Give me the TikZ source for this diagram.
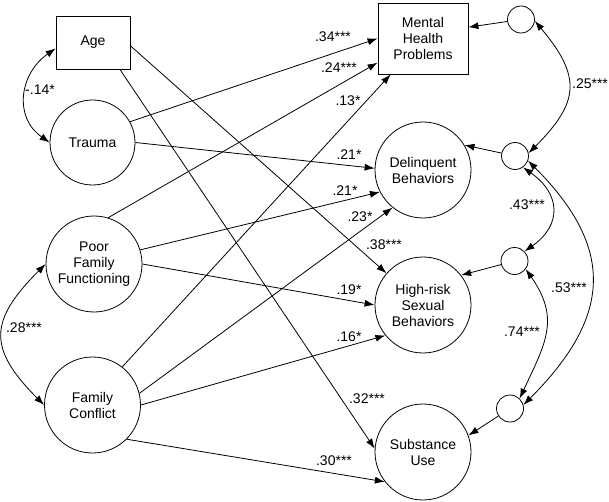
\documentclass[tikz,border=0pt]{standalone}
\usepackage{fontspec}
\setmainfont{Liberation Sans}
\usetikzlibrary{arrows.meta}

\begin{document}
\begin{tikzpicture}[x=1pt,y=1pt,line width=0.8pt,
    font=\fontsize{14}{16}\selectfont,
    obs/.style={draw,rectangle,align=center,inner sep=0pt},
    lat/.style={draw,circle,align=center,inner sep=0pt,minimum size=96pt},
    err/.style={draw,circle,inner sep=0pt,minimum size=27pt},
    path/.style={-{Latex[length=10pt,width=7pt]}},
    cov/.style={{Latex[length=10pt,width=7pt]}-{Latex[length=10pt,width=7pt]}},
    coef/.style={inner sep=0pt}]
        \useasboundingbox (0,0) rectangle (609,-502);

        % predictors
        \node[obs,minimum width=74pt,minimum height=53pt] (age) at (93,-42.5) {Age};
        \node[lat,minimum size=85pt] (trauma) at (92.5,-142.5) {Trauma};
        \node[lat] (pff) at (94,-264) {Poor\\Family\\Functioning};
        \node[lat] (fc) at (92.5,-405) {Family\\Conflict};

        % outcomes
        \node[obs,minimum width=90pt,minimum height=71pt] (mhp) at (423,-38.5) {Mental\\Health\\Problems};
        \node[lat] (del) at (423,-170) {Delinquent\\Behaviors};
        \node[lat] (hrsb) at (423,-305) {High-risk\\Sexual\\Behaviors};
        \node[lat] (su) at (423,-452) {Substance\\Use};

        % residuals
        \node[err] (e1) at (521,-19.5) {};
        \node[err] (e2) at (515,-156) {};
        \node[err] (e3) at (514.5,-261) {};
        \node[err] (e4) at (510,-408.5) {};

        \draw[path] (e1) -- (mhp.14);
        \draw[path] (e2) -- (del.31);
        \draw[path] (e3) -- (hrsb.38);
        \draw[path] (e4) -- (su.20);

        % paths
        \draw[path] (age.-5) -- (hrsb.139);
        \draw[path] (age.-45) -- (su.176);
        \draw[path] (trauma.29) -- (mhp.west);
        \draw[path] (trauma.east) -- (del.178);
        \draw[path] (pff.73) -- (mhp.208);
        \draw[path] (pff.17) -- (del.207);
        \draw[path] (pff.east) -- (hrsb.west);
        \draw[path] (fc.52) -- (mhp.228);
        \draw[path] (fc.14) -- (del.231);
        \draw[path] (fc.east) -- (hrsb.219);
        \draw[path] (fc.-45) -- (su.218);

        \node[coef] (b1) at (333,-37) {.34***};
        \node[coef] (b2) at (339,-68) {.24***};
        \node[coef] (b3) at (348,-101) {.13*};
        \node[coef] (b4) at (349,-155) {.21*};
        \node[coef] (b5) at (345,-191) {.21*};
        \node[coef] (b6) at (360,-217) {.23*};
        \node[coef] (b7) at (384,-245) {.38***};
        \node[coef] (b8) at (349,-290) {.19*};
        \node[coef] (b9) at (349,-337) {.16*};
        \node[coef] (b10) at (367,-399) {.32***};
        \node[coef] (b11) at (334,-461) {.30***};

        % correlations
        \draw[cov] (age.189) to[out=215,in=145,looseness=1.2] (trauma.west);
        \draw[cov] (pff.west) to[out=225,in=135,looseness=1.45] (fc.west);
        \node[coef] (r1) at (40,-90) {-.14*};
        \node[coef] (r2) at (24,-328) {.28***};

        \draw[cov] (e1.-6) to[out=-50,in=45,looseness=1.4] (e2.12);
        \draw[cov] (e2.-55) to[out=-35,in=35,looseness=1.4] (e3.44);
        \draw[cov] (e2.-20) to[out=-45,in=45,looseness=1.3] (e4.15);
        \draw[cov] (e3.-36) to[out=-55,in=65,looseness=1.2] (e4.46);
        \node[coef] (r3) at (590,-84) {.25***};
        \node[coef] (r4) at (527,-205) {.43***};
        \node[coef] (r5) at (569,-288) {.53***};
        \node[coef] (r6) at (522,-332) {.74***};
\end{tikzpicture}
\end{document}
